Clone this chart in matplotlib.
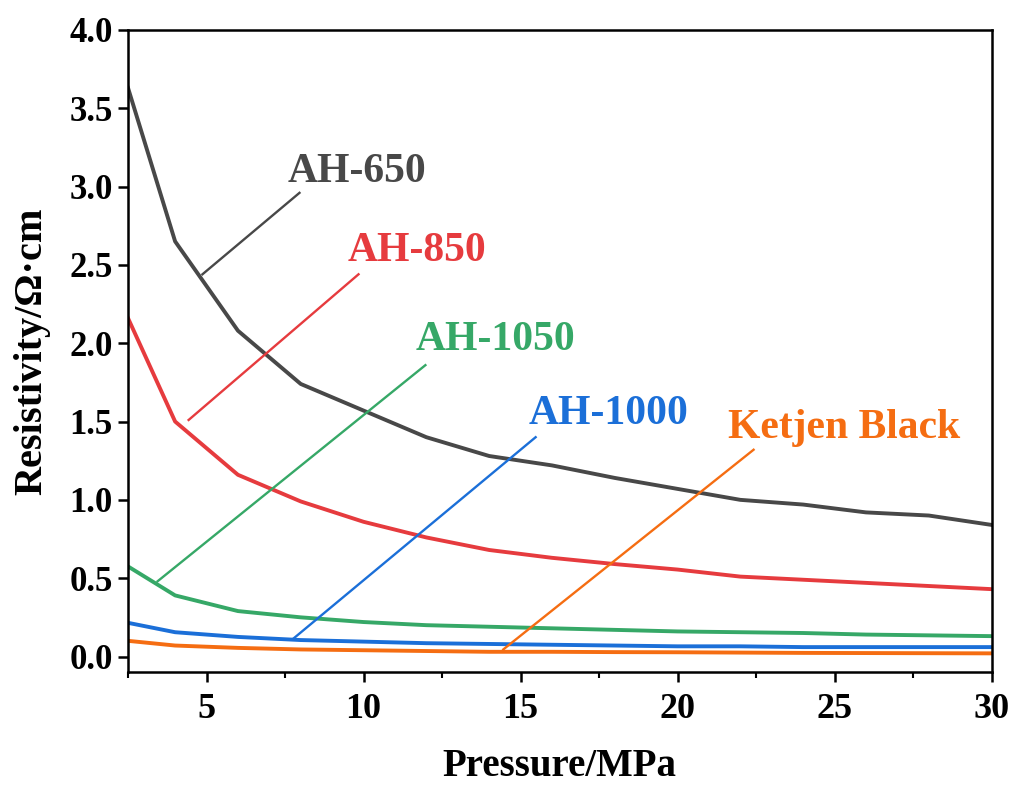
import matplotlib
matplotlib.use("Agg")
import matplotlib.pyplot as plt
from matplotlib.ticker import MultipleLocator, FormatStrFormatter

# --- data ------------------------------------------------------------------
pressure = [2.5, 4, 6, 8, 10, 12, 14, 16, 18, 20, 22, 24, 26, 28, 30]

ah650 = [3.63, 2.65, 2.08, 1.74, 1.57, 1.40, 1.28, 1.22, 1.14, 1.07,
         1.00, 0.97, 0.92, 0.90, 0.84]
ah850 = [2.16, 1.50, 1.16, 0.99, 0.86, 0.76, 0.68, 0.63, 0.59, 0.555,
         0.51, 0.49, 0.47, 0.45, 0.43]
ah1050 = [0.575, 0.39, 0.29, 0.25, 0.22, 0.20, 0.19, 0.18, 0.17, 0.16,
          0.155, 0.15, 0.14, 0.135, 0.13]
ah1000 = [0.215, 0.155, 0.125, 0.105, 0.095, 0.085, 0.08, 0.075, 0.07, 0.065,
          0.065, 0.06, 0.06, 0.06, 0.06]
ketjen = [0.10, 0.07, 0.055, 0.045, 0.04, 0.035, 0.03, 0.03, 0.028, 0.027,
          0.025, 0.023, 0.022, 0.021, 0.02]

names = ["AH-650", "AH-850", "AH-1050", "AH-1000", "Ketjen Black"]
series = [ah650, ah850, ah1050, ah1000, ketjen]
colors = ["#484848", "#e63b3e", "#36a867", "#1b6fd8", "#f56d12"]

# leader line: point on curve -> end near label, then label centre
leader_start = [(4.87, 2.44), (4.43, 1.51), (3.44, 0.48), (7.74, 0.11), (14.45, 0.045)]
leader_end = [(7.96, 2.96), (9.84, 2.44), (11.97, 1.86), (15.48, 1.40), (22.42, 1.32)]
label_pos = [(9.8, 3.09), (11.7, 2.59), (14.2, 2.02), (17.8, 1.55), (25.3, 1.46)]
# ---------------------------------------------------------------------------

plt.rcParams["font.family"] = ["Liberation Serif", "DejaVu Serif"]
plt.rcParams["font.weight"] = "bold"

fig = plt.figure(figsize=(10.16, 7.88), dpi=100)
ax = fig.add_axes([0.126, 0.147, 0.850, 0.815])

for y, c in zip(series, colors):
    ax.plot(pressure, y, color=c, lw=2.8, solid_joinstyle="round")

for name, c, s, e, p in zip(names, colors, leader_start, leader_end, label_pos):
    ax.plot([s[0], e[0]], [s[1], e[1]], color=c, lw=1.7)
    ax.text(p[0], p[1], name, color=c, fontsize=30, fontweight="bold",
            ha="center", va="center")

ax.set_xlim(2.5, 30)
ax.set_ylim(-0.1, 4.0)
ax.xaxis.set_major_locator(MultipleLocator(5))
ax.xaxis.set_minor_locator(MultipleLocator(2.5))
ax.yaxis.set_major_locator(MultipleLocator(0.5))
ax.yaxis.set_major_formatter(FormatStrFormatter("%.1f"))

for sp in ax.spines.values():
    sp.set_linewidth(1.8)
ax.tick_params(axis="both", which="major", direction="out", length=7, width=1.8)
ax.tick_params(axis="x", which="minor", direction="out", length=4, width=1.5)
ax.tick_params(axis="x", labelsize=26, pad=8)
ax.tick_params(axis="y", labelsize=25, pad=4)
for lab in ax.get_xticklabels() + ax.get_yticklabels():
    lab.set_fontweight("bold")

ax.set_xlabel("Pressure/MPa", fontsize=28, fontweight="bold", labelpad=16)
ax.set_ylabel("Resistivity/Ω·cm", fontsize=29, fontweight="bold", labelpad=14)

fig.savefig("out.png", dpi=100)
